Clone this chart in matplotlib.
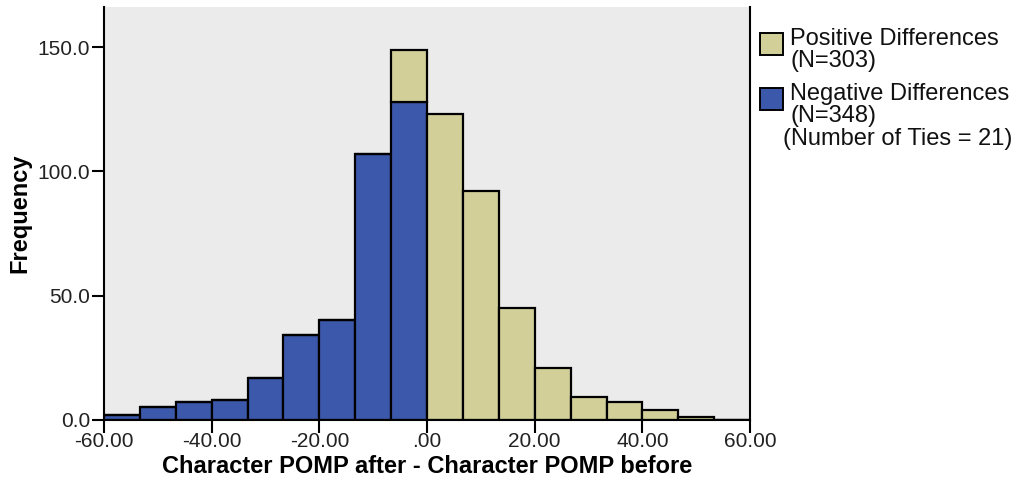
import matplotlib.pyplot as plt
import numpy as np
from matplotlib.patches import Rectangle

plt.rcParams['font.family'] = ['Liberation Sans', 'DejaVu Sans']

# histogram bins: 18 bins from -60 to 60
bin_edges = np.linspace(-60, 60, 19)
negative_counts = [2, 5, 7, 8, 17, 34, 40, 107, 128, 0, 0, 0, 0, 0, 0, 0, 0, 0]
positive_counts = [0, 0, 0, 0, 0, 0, 0, 0, 21, 123, 92, 45, 21, 9, 7, 4, 1, 0]
n_pos = 303
n_neg = 348
n_ties = 21

blue = '#3C58AA'
yellow = '#D3CF98'

W, H = 1029, 491
fig = plt.figure(figsize=(W / 100, H / 100), dpi=100)
ax = fig.add_axes([0.101, 0.145, 0.628, 0.84])
ax.set_facecolor('#EBEBEB')

width = bin_edges[1] - bin_edges[0]
left = bin_edges[:-1]
neg = np.array(negative_counts)
pos = np.array(positive_counts)
ax.bar(left, neg, width=width, align='edge', color=blue, edgecolor='black', linewidth=1.6)
ax.bar(left, pos, width=width, align='edge', bottom=neg, color=yellow, edgecolor='black', linewidth=1.6)

ax.set_xlim(-60, 60)
ax.set_ylim(0, 166)
ax.set_xticks([-60, -40, -20, 0, 20, 40, 60])
ax.set_xticklabels(['-60.00', '-40.00', '-20.00', '.00', '20.00', '40.00', '60.00'])
ax.set_yticks([0, 50, 100, 150])
ax.set_yticklabels(['0.0', '50.0', '100.0', '150.0'])
ax.tick_params(direction='out', length=9, width=1.5, labelsize=15, colors='black',
               labelcolor='#222222', pad=1)
ax.tick_params(axis='x', pad=0)
for s in ['left', 'bottom', 'right']:
    ax.spines[s].set_linewidth(1.5)
ax.spines['top'].set_visible(False)

ax.set_xlabel('Character POMP after - Character POMP before', fontsize=17, fontweight='bold', labelpad=3)
ax.set_ylabel('Frequency', fontsize=17, fontweight='bold', labelpad=4)

# legend drawn by hand (pixel positions from the top-left corner)
def px(x, y):
    return x / W, 1 - y / H

for color, y_top in [(yellow, 33), (blue, 88)]:
    x0, y0 = px(760, y_top + 22)
    fig.patches.append(Rectangle((x0, y0), 23 / W, 22 / H, transform=fig.transFigure,
                                 facecolor=color, edgecolor='black', linewidth=1.4))

legend_lines = [
    (790, 45, 'Positive Differences'),
    (790, 67, '(N=%d)' % n_pos),
    (790, 100, 'Negative Differences'),
    (790, 122, '(N=%d)' % n_neg),
    (783, 145, '(Number of Ties = %d)' % n_ties),
]
for x, y, s in legend_lines:
    fig.text(*px(x, y), s, fontsize=17, va='baseline', ha='left', color='#111111')

fig.savefig('out.png', dpi=100)
